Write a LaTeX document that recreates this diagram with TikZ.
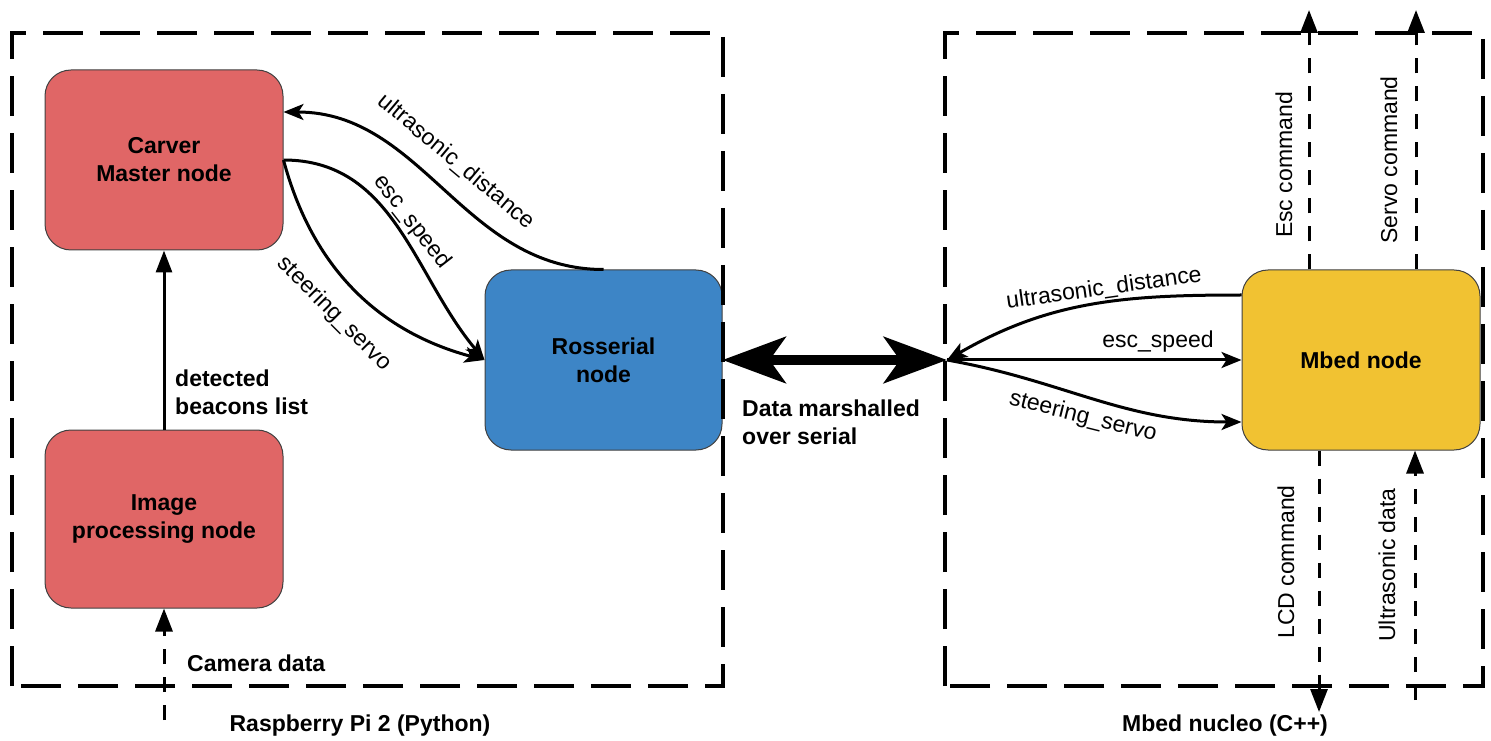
\documentclass[tikz,border=0pt]{standalone}
\usepackage{fontspec}
\setmainfont{Liberation Sans}
\usepackage{tikz}
\usetikzlibrary{positioning}
\usetikzlibrary{arrows.meta}
\usetikzlibrary{calc}

\definecolor{rosred}{HTML}{E06666}
\definecolor{rosblue}{HTML}{3D85C6}
\definecolor{mbedyellow}{HTML}{F1C232}

\tikzset{
    rosnode/.style={draw=black!75, line width=1pt, rounded corners=26pt,
        minimum width=238pt, minimum height=180pt, align=center,
        font=\fontsize{23}{28}\selectfont\bfseries},
    board/.style={line width=4.5pt, dash pattern=on 40pt off 17pt},
    topic/.style={line width=3pt, -{Stealth[length=20pt,width=16pt,inset=5pt]}},
    solidtip/.style={line width=3pt, -{Triangle[length=22pt,width=16pt]}},
    hw/.style={line width=3pt, dash pattern=on 15pt off 13pt, -{Triangle[length=23pt,width=17pt]}},
    serial/.style={line width=10pt,
        {Stealth[length=63pt,width=46pt,inset=16pt]}-{Stealth[length=63pt,width=46pt,inset=16pt]}},
    lbl/.style={inner sep=0pt, font=\fontsize{23}{28}\selectfont},
    blbl/.style={inner sep=0pt, align=left, font=\fontsize{23}{28}\selectfont\bfseries},
}

\begin{document}
\begin{tikzpicture}[x=1pt,y=1pt]
        \useasboundingbox (0,0) rectangle (1491,740);

        \node[rosnode, fill=rosred] (carver) at (164,580) {Carver\\Master node};
        \node[rosnode, fill=rosred, minimum height=178pt] (image) at (164,221) {Image\\processing node};
        \node[rosnode, fill=rosblue, minimum width=237pt] (rosserial) at (603.5,380) {Rosserial\\node};
        \node[rosnode, fill=mbedyellow] (mbed) at (1361,380) {Mbed node};

        \draw[board] (12,54) rectangle (723,707);
        \draw[board] (945,54) rectangle (1483,707);

        \coordinate (hub) at (947,380);
        \coordinate (camera) at (164,20);
        \coordinate (esc) at (1309,730);
        \coordinate (servo) at (1416,730);
        \coordinate (lcd) at (1319,28);
        \coordinate (sonar) at (1415,40);

        \draw[solidtip] (image) -- (carver);
        \draw[hw] (camera) -- (image);
        \draw[topic] (rosserial.north) to[out=180, in=0] ([yshift=48pt]carver.east);
        \draw[topic] (carver.east) to[out=0, in=130] (rosserial.west);
        \draw[topic] (carver.east) to[out=-75, in=165] (rosserial.west);

        \draw[serial] (rosserial.east) -- (hub);

        \draw[topic] ([yshift=65pt]mbed.west) to[out=180, in=30] (hub);
        \draw[topic] (hub) -- (mbed.west);
        \draw[topic] (hub) to[out=-10, in=180] ([yshift=-62pt]mbed.west);

        \draw[hw] (esc |- mbed.north) -- (esc);
        \draw[hw] (servo |- mbed.north) -- (servo);
        \draw[hw] (lcd |- mbed.south) -- (lcd);
        \draw[hw] (sonar) -- (sonar |- mbed.south);

        \node[lbl, rotate=-40] (ultraleft) at (456,578) {ultrasonic\_distance};
        \node[lbl, rotate=-52] (escleft) at (412,518) {esc\_speed};
        \node[lbl, rotate=-45] (steerleft) at (334,426) {steering\_servo};
        \node[lbl, rotate=8] (ultraright) at (1104,451) {ultrasonic\_distance};
        \node[lbl] (escright) at (1158,398) {esc\_speed};
        \node[lbl, rotate=-14] (steerright) at (1083,323) {steering\_servo};
        \node[lbl, rotate=90] (esccmd) at (1284,575) {Esc command};
        \node[lbl, rotate=90] (servocmd) at (1389,580) {Servo command};
        \node[lbl, rotate=90] (lcdcmd) at (1286,178) {LCD command};
        \node[lbl, rotate=90] (sonardata) at (1387,175) {Ultrasonic data};

        \node[blbl, anchor=west] (beacons) at (175,348) {detected\\beacons list};
        \node[blbl, anchor=west] (cameralbl) at (187,77) {Camera data};
        \node[blbl, anchor=west] (marshal) at (742,318) {Data marshalled\\over serial};
        \node[blbl] (pi) at (360,14) {Raspberry Pi 2 (Python)};
        \node[blbl] (nucleo) at (1225,14) {Mbed nucleo (C++)};
\end{tikzpicture}
\end{document}
